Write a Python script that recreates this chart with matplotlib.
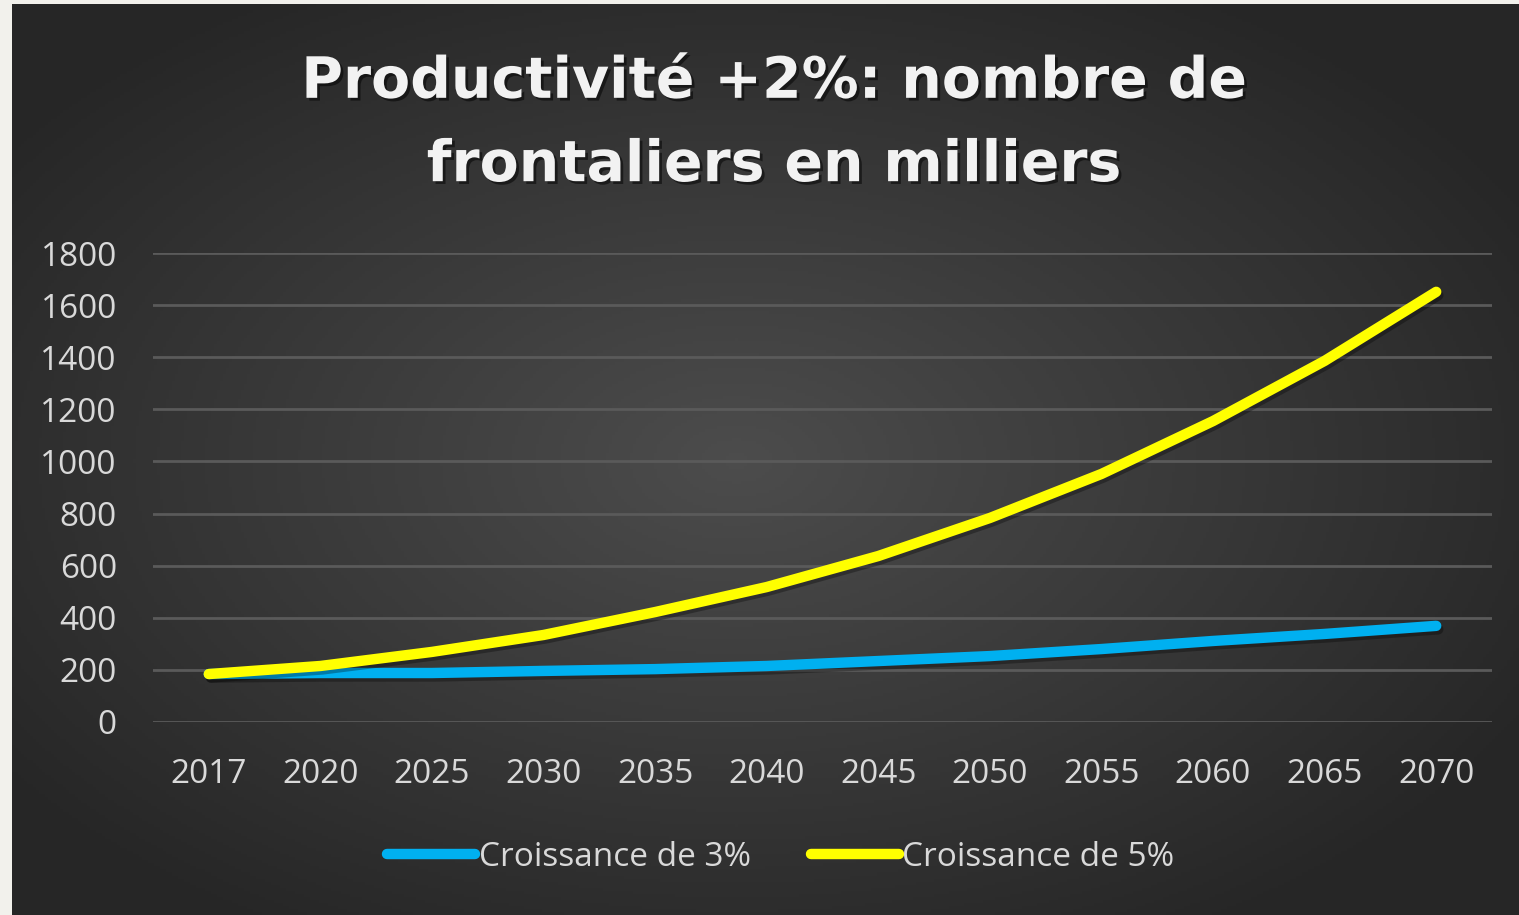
import numpy as np
import matplotlib.pyplot as plt
import matplotlib.patheffects as pe

years = ["2017", "2020", "2025", "2030", "2035", "2040",
         "2045", "2050", "2055", "2060", "2065", "2070"]
croissance_3 = [184, 188, 188, 196, 203, 215, 234, 253, 280, 311, 338, 369]
croissance_5 = [184, 215, 269, 334, 422, 518, 637, 783, 952, 1155, 1386, 1651]

W, H = 1519, 915
fig = plt.figure(figsize=(W / 100, H / 100), dpi=100)
fig.patch.set_facecolor("#f2f1ec")

# dark panel with radial gradient
bg = fig.add_axes([12 / W, 0, 1 - 12 / W, 1 - 4 / H])
bg.set_axis_off()
yy, xx = np.mgrid[0:300, 0:500]
r = np.sqrt(((xx - 240) / 300) ** 2 + ((yy - 150) / 180) ** 2)
shade = np.clip(0.30 - 0.15 * r, 0.15, 0.30)
bg.imshow(np.dstack([shade] * 3), aspect="auto", extent=[0, 1, 0, 1])
bg.set_xlim(0, 1)
bg.set_ylim(0, 1)

ax = fig.add_axes([153 / W, 1 - 722 / H, (1492 - 153) / W, (722 - 253) / H])
ax.patch.set_alpha(0)

x = np.arange(len(years))
shadow = [pe.SimpleLineShadow(offset=(1.5, -2.5), shadow_color="black", alpha=0.3),
          pe.Normal()]
ax.plot(x, croissance_3, color="#00b0f0", lw=7.5, solid_capstyle="round",
        label="Croissance de 3%", path_effects=shadow, zorder=3)
ax.plot(x, croissance_5, color="#ffff00", lw=7.5, solid_capstyle="round",
        label="Croissance de 5%", path_effects=shadow, zorder=4)

ax.set_xlim(-0.5, len(years) - 0.5)
ax.set_ylim(0, 1800)
ax.set_yticks(range(0, 1801, 200))
ax.set_xticks(x)
ax.set_xticklabels(years)
ax.grid(axis="y", color="#5a5a5a", lw=2)
ax.set_axisbelow(True)
for s in ax.spines.values():
    s.set_visible(False)
ax.tick_params(length=0, colors="#d9d9d9", labelsize=24)
ax.tick_params(axis="y", pad=26)
ax.tick_params(axis="x", pad=26)
for lab in ax.get_xticklabels() + ax.get_yticklabels():
    lab.set_fontfamily("Open Sans")

fig.text(0.51, 1 - 124 / H, "Productivité +2%: nombre de\nfrontaliers en milliers",
         ha="center", va="center", fontsize=41, fontweight="bold",
         color="#f2f2f2", family="DejaVu Sans", linespacing=1.66,
         path_effects=[pe.withSimplePatchShadow(offset=(2, -2),
                                                 shadow_rgbFace="black",
                                                 alpha=0.5)])

leg = fig.legend(loc="center", bbox_to_anchor=(0.514, 1 - 857 / H), ncol=2,
                 frameon=False, handlelength=2.65,
                 handletextpad=0.1, columnspacing=1.8,
                 prop={"family": "Open Sans", "size": 24})
for t in leg.get_texts():
    t.set_color("#d9d9d9")
for h in leg.get_lines():
    h.set_path_effects([pe.Normal()])

fig.savefig("out.png", dpi=100, facecolor=fig.get_facecolor())
